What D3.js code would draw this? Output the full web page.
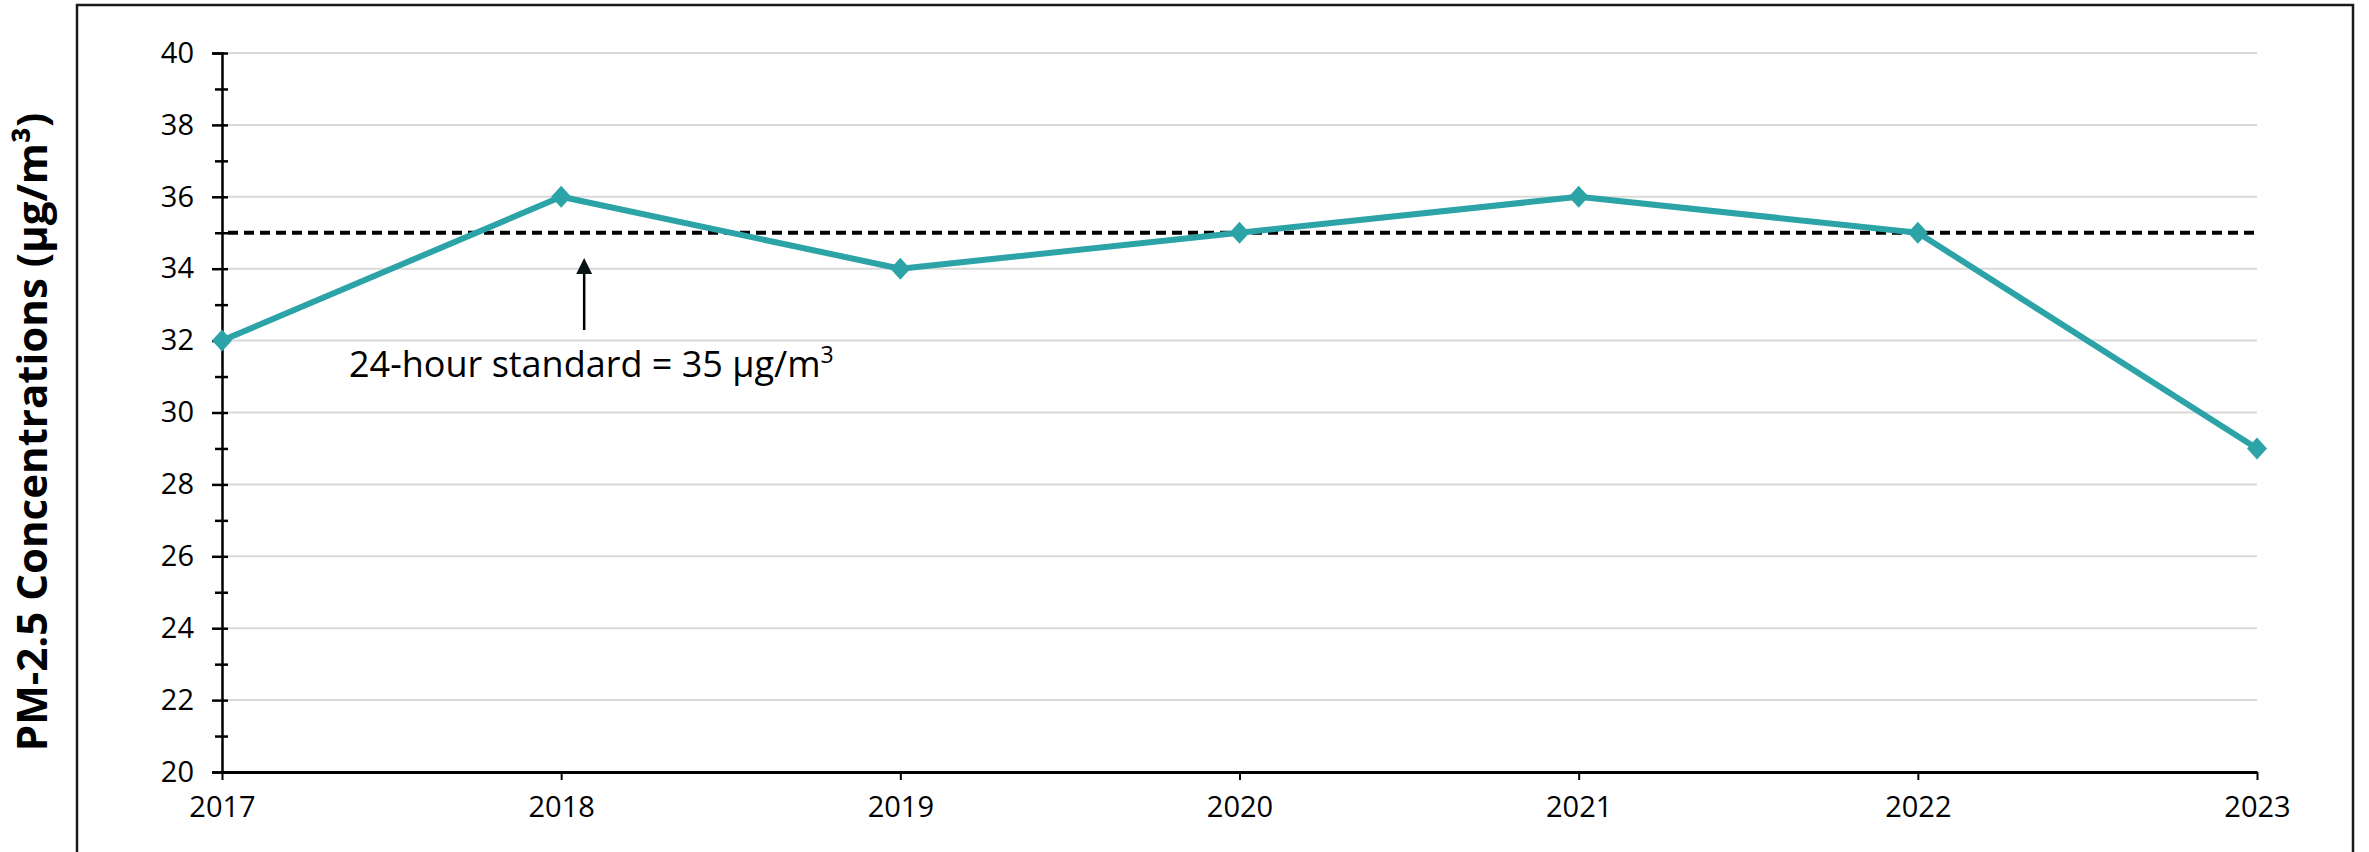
<!DOCTYPE html>
<html>
<head>
<meta charset="utf-8">
<script src="https://cdn.jsdelivr.net/npm/d3@7"></script>
<style>
  html, body { margin: 0; padding: 0; background: #fff; }
  svg text { font-family: "Open Sans", "Noto Sans", sans-serif; fill: #000; }
</style>
</head>
<body>
<div id="chart"></div>
<script>
// data
let years = [2017, 2018, 2019, 2020, 2021, 2022, 2023];
let pm25 = [32, 36, 34, 35, 36, 35, 29];
let standard = 35;
let yMajorTicks = [20, 22, 24, 26, 28, 30, 32, 34, 36, 38, 40];
let yMinorTicks = [21, 23, 25, 27, 29, 31, 33, 35, 37, 39];
let yTitle = "PM-2.5 Concentrations (µg/m³)";
let noteText = "24-hour standard = 35 µg/m";

// size of the page and plot area
let width = 2369,
  height = 852;
let plot = { left: 222, right: 2257, top: 53, bottom: 772 };
let lineColor = "#2ca3a7";

let svg = d3
  .select("#chart")
  .append("svg")
  .attr("width", width)
  .attr("height", height);

// outer frame (bottom edge runs off the picture)
svg
  .append("rect")
  .attr("x", 77)
  .attr("y", 5)
  .attr("width", 2353 - 77)
  .attr("height", 900)
  .attr("fill", "none")
  .attr("stroke", "#1a1a1a")
  .attr("stroke-width", 2.5);

let x = d3.scaleLinear().domain([2017, 2023]).range([plot.left, plot.right]);
let y = d3.scaleLinear().domain([20, 40]).range([plot.bottom, plot.top]);

// grid lines
svg
  .append("g")
  .selectAll("line")
  .data(yMajorTicks.filter((d) => d > 20))
  .enter()
  .append("line")
  .attr("x1", plot.left + 6)
  .attr("x2", plot.right)
  .attr("y1", (d) => y(d))
  .attr("y2", (d) => y(d))
  .attr("stroke", "#d9d9d9")
  .attr("stroke-width", 2);

// y axis: labelled major ticks, minor ticks, and the short ticks on the right side
let yAxis = svg
  .append("g")
  .attr("transform", "translate(" + plot.left + ",0)")
  .call(d3.axisLeft(y).tickValues(yMajorTicks).tickSize(10).tickPadding(18));
yAxis.selectAll("text").style("font-size", "29px");
yAxis.select(".domain").attr("stroke-width", 2.5);
yAxis.selectAll(".tick line").attr("stroke-width", 2.5);

svg
  .append("g")
  .attr("transform", "translate(" + plot.left + ",0)")
  .call(d3.axisLeft(y).tickValues(yMinorTicks).tickSize(7).tickFormat(""))
  .call((g) => g.select(".domain").remove())
  .selectAll(".tick line")
  .attr("stroke-width", 2.5);

svg
  .append("g")
  .attr("transform", "translate(" + plot.left + ",0)")
  .call(
    d3
      .axisRight(y)
      .tickValues(yMajorTicks.concat(yMinorTicks))
      .tickSize(6)
      .tickFormat("")
  )
  .call((g) => g.select(".domain").remove())
  .selectAll(".tick line")
  .attr("stroke-width", 2.5);

// x axis
let xAxis = svg
  .append("g")
  .attr("transform", "translate(0," + plot.bottom + ")")
  .call(
    d3
      .axisBottom(x)
      .tickValues(years)
      .tickFormat(d3.format("d"))
      .tickSize(8)
      .tickSizeOuter(0)
      .tickPadding(16)
  );
xAxis.selectAll("text").style("font-size", "29px");
xAxis.select(".domain").attr("stroke-width", 3);
xAxis.selectAll(".tick line").attr("stroke-width", 2);

// y axis title
svg
  .append("text")
  .attr("transform", "translate(47," + 432 + ") rotate(-90)")
  .attr("text-anchor", "middle")
  .style("font-size", "42px")
  .style("font-weight", "700")
  .text(yTitle);

// 24-hour standard reference line
svg
  .append("line")
  .attr("x1", plot.left + 6)
  .attr("x2", plot.right + 3)
  .attr("y1", y(standard))
  .attr("y2", y(standard))
  .attr("stroke", "#000")
  .attr("stroke-width", 4)
  .attr("stroke-dasharray", "10,6");

// annotation arrow and text
let noteX = x(2018) + 23;
svg
  .append("defs")
  .append("marker")
  .attr("id", "arrow")
  .attr("viewBox", "0 0 10 10")
  .attr("refX", 5)
  .attr("refY", 10)
  .attr("markerWidth", 16)
  .attr("markerHeight", 16)
  .attr("markerUnits", "userSpaceOnUse")
  .attr("orient", "0")
  .append("path")
  .attr("d", "M0,10 L5,0 L10,10 Z")
  .attr("fill", "#0a1414");

svg
  .append("line")
  .attr("x1", noteX)
  .attr("x2", noteX)
  .attr("y1", 330)
  .attr("y2", 274)
  .attr("stroke", "#000")
  .attr("stroke-width", 2.5)
  .attr("marker-end", "url(#arrow)");

let note = svg
  .append("text")
  .attr("x", 349)
  .attr("y", 377)
  .style("font-size", "36px")
  .text(noteText);
note
  .append("tspan")
  .attr("dy", -14)
  .style("font-size", "23px")
  .text("3");

// data line
let line = d3
  .line()
  .x((d, i) => x(years[i]))
  .y((d) => y(d));

svg
  .append("path")
  .datum(pm25)
  .attr("d", line)
  .attr("fill", "none")
  .attr("stroke", lineColor)
  .attr("stroke-width", 6)
  .attr("stroke-linejoin", "round");

// diamond markers
svg
  .append("g")
  .selectAll("path")
  .data(pm25)
  .enter()
  .append("path")
  .attr("transform", (d, i) => "translate(" + x(years[i]) + "," + y(d) + ")")
  .attr("d", "M0,-11 L10,0 L0,11 L-10,0 Z")
  .attr("fill", lineColor);
</script>
</body>
</html>
